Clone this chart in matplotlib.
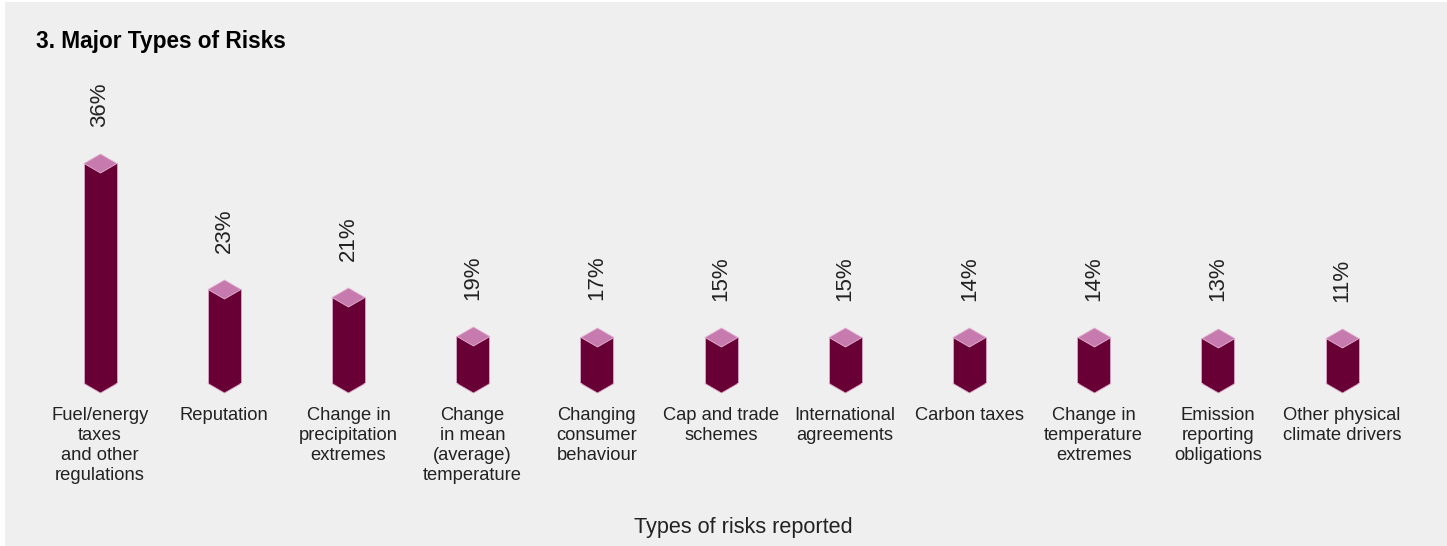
import numpy as np
import matplotlib.pyplot as plt
from matplotlib.path import Path
from matplotlib.patches import Rectangle

plt.rcParams['font.family'] = ['Liberation Sans', 'DejaVu Sans']

# Risk categories and share of companies reporting each
categories = [
    "Fuel/energy\ntaxes\nand other\nregulations",
    "Reputation",
    "Change in\nprecipitation\nextremes",
    "Change\nin mean\n(average)\ntemperature",
    "Changing\nconsumer\nbehaviour",
    "Cap and trade\nschemes",
    "International\nagreements",
    "Carbon taxes",
    "Change in\ntemperature\nextremes",
    "Emission\nreporting\nobligations",
    "Other physical\nclimate drivers",
]
shares = [36, 23, 21, 19, 17, 15, 15, 14, 14, 13, 11]

# compressed value axis (value -> pixel height) so the small shares stay readable
scale_vals = [0, 11, 19, 21, 23, 36, 60]
scale_px = [0, 45, 47, 86, 94, 220, 453]

def fwd(v):
    return np.interp(v, scale_vals, scale_px)

def inv(p):
    return np.interp(p, scale_px, scale_vals)

maroon = '#680035'
pink = '#c67aae'
text_col = '#222222'

W, H = 1447, 546
fig = plt.figure(figsize=(W / 100, H / 100), dpi=100, facecolor='white')
fig.patches.append(Rectangle((5 / W, 0), 1 - 5 / W, 1 - 2 / H, transform=fig.transFigure,
                             facecolor='#efefef', edgecolor='none', zorder=-1))

step = 124.2
left = 100 - step / 2
ax = fig.add_axes([left / W, 163 / H, 11 * step / W, 323 / H])
ax.set_facecolor('none')
ax.set_yscale('function', functions=(fwd, inv))
ax.set_xlim(-0.5, 10.5)
ax.set_ylim(0, float(inv(323)))

x = np.arange(len(shares))
bw = 33 / step
ax.bar(x, shares, width=bw, color=maroon, edgecolor='#d9a6c6', linewidth=0.6, zorder=2)

# rhombus used for the bar tops and pointed bottoms
rh = 19 / 33
rhombus = Path([(-1, 0), (0, rh), (1, 0), (0, -rh), (-1, 0)],
               [Path.MOVETO, Path.LINETO, Path.LINETO, Path.LINETO, Path.CLOSEPOLY])
msize = 33 * 0.72
ax.plot(x, np.zeros(len(x)), linestyle='none', marker=rhombus, markersize=msize,
        markerfacecolor=maroon, markeredgecolor='#d9a6c6', markeredgewidth=0.6,
        clip_on=False, zorder=1)
ax.plot(x, shares, linestyle='none', marker=rhombus, markersize=msize,
        markerfacecolor=pink, markeredgecolor='#e3b5d2', markeredgewidth=0.6,
        clip_on=False, zorder=3)

for xi, v in zip(x, shares):
    ax.annotate(f"{v}%", (xi, v), xytext=(0, 26), textcoords='offset points',
                ha='center', va='bottom', rotation=90, fontsize=16, color=text_col)

ax.set_xticks(x)
ax.set_xticklabels(categories, fontsize=13.2, color=text_col, linespacing=1.25)
ax.tick_params(axis='x', length=0, pad=17)
ax.set_yticks([])
ax.minorticks_off()
for s in ax.spines.values():
    s.set_visible(False)

fig.text(36 / W, 1 - 48 / H, "3. Major Types of Risks", fontsize=16.3, fontweight='bold',
         color='black', va='baseline', ha='left')
fig.text(743 / W, 1 - 533 / H, "Types of risks reported", fontsize=15.6,
         color=text_col, va='baseline', ha='center')

fig.savefig('out.png', dpi=100, facecolor=fig.get_facecolor())
